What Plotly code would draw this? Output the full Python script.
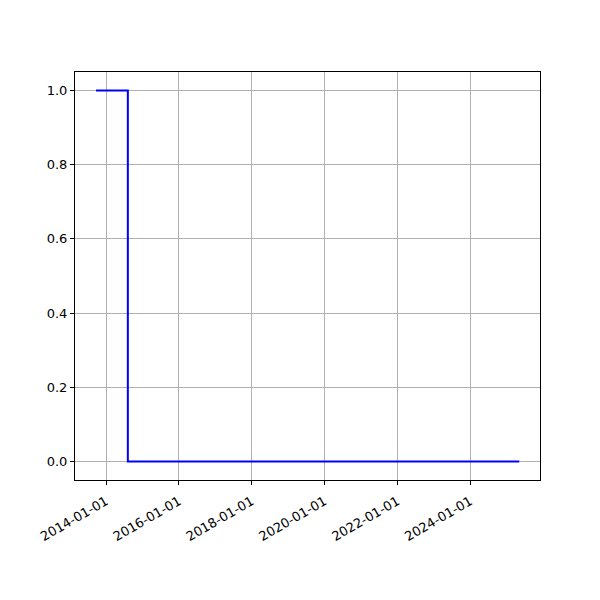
import plotly.graph_objects as go

dates = ["2013-09-23", "2014-08-08", "2025-05-07"]
values = [1.0, 0.0, 0.0]
xtick_vals = ["2014-01-01", "2016-01-01", "2018-01-01", "2020-01-01", "2022-01-01", "2024-01-01"]
ytick_vals = [0.0, 0.2, 0.4, 0.6, 0.8, 1.0]

fig = go.Figure()
fig.add_trace(go.Scatter(x=dates, y=values, mode="lines", line_shape="hv",
                         line=dict(color="blue", width=2), showlegend=False))

fig.update_layout(
    width=600, height=600,
    margin=dict(l=67, r=68, t=64, b=128),
    plot_bgcolor="white", paper_bgcolor="white",
    font=dict(family="DejaVu Sans", size=13, color="black"),
)
fig.update_xaxes(
    type="date", range=["2013-02-24", "2025-12-01"], automargin=False,
    tickvals=xtick_vals, tickformat="%Y-%m-%d", tickangle=-30,
    ticklabelstandoff=4,
    showgrid=True, gridcolor="#b0b0b0", gridwidth=1,
    showline=True, linecolor="black", linewidth=1, mirror=True,
    ticks="outside", ticklen=4, tickcolor="black", zeroline=False,
)
fig.update_yaxes(
    range=[-0.05, 1.05], tickvals=ytick_vals, tickformat=".1f", automargin=False,
    showgrid=True, gridcolor="#b0b0b0", gridwidth=1,
    showline=True, linecolor="black", linewidth=1, mirror=True,
    ticks="outside", ticklen=4, tickcolor="black", zeroline=False,
)
fig.write_html("out.html")
